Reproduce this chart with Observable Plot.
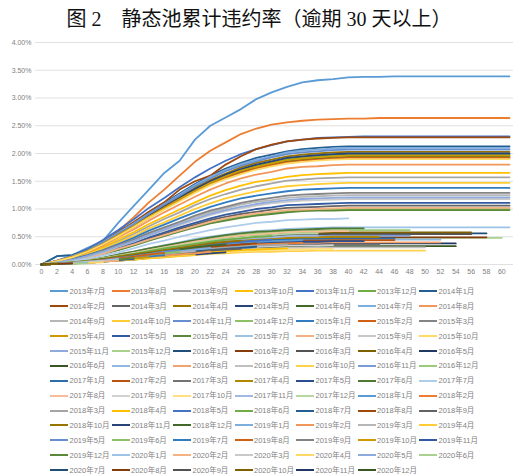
<!DOCTYPE html>
<html><head><meta charset="utf-8">
<script src="https://cdn.jsdelivr.net/npm/d3@7"></script>
<script src="https://cdn.jsdelivr.net/npm/@observablehq/plot@0.6"></script>
<style>
html,body{margin:0;padding:0;background:#fff}
body{width:518px;height:476px;overflow:hidden;position:relative;font-family:"Noto Sans CJK SC",sans-serif}
#title{position:absolute;left:0;top:0;width:518px;height:36px;line-height:38px;text-align:center;font-family:"Liberation Serif","Noto Sans CJK SC",serif;font-size:20px;color:#111;white-space:pre}
#chart{position:absolute;left:0;top:32px}
#legend{position:absolute;left:50px;top:284px;display:grid;grid-template-columns:repeat(7,61.5px);grid-auto-rows:14.9px}
.item{display:flex;align-items:center;white-space:nowrap;font-size:7.5px;line-height:9px;color:#7f7f7f;font-family:"Liberation Sans","Noto Sans CJK SC",sans-serif}
.sw{display:inline-block;width:18px;height:2px;margin-right:1.5px;flex:none}
</style>
</head><body>
<div id="title">图 2　静态池累计违约率（逾期 30 天以上）</div>
<div id="chart"></div>
<div id="legend"></div>
<script>
// Pool names (issuance month)
const poolNames = [
"2013年7月","2013年8月","2013年9月","2013年10月","2013年11月","2013年12月",
"2014年1月","2014年2月","2014年3月","2014年4月","2014年5月","2014年6月","2014年7月","2014年8月","2014年9月","2014年10月","2014年11月","2014年12月",
"2015年1月","2015年2月","2015年3月","2015年4月","2015年5月","2015年6月","2015年7月","2015年8月","2015年9月","2015年10月","2015年11月","2015年12月",
"2016年1月","2016年2月","2016年3月","2016年4月","2016年5月","2016年6月","2016年7月","2016年8月","2016年9月","2016年10月","2016年11月","2016年12月",
"2017年1月","2017年2月","2017年3月","2017年4月","2017年5月","2017年6月","2017年7月","2017年8月","2017年9月","2017年10月","2017年11月","2017年12月",
"2018年1月","2018年2月","2018年3月","2018年4月","2018年5月","2018年6月","2018年7月","2018年8月","2018年9月","2018年10月","2018年11月","2018年12月",
"2019年1月","2019年2月","2019年3月","2019年4月","2019年5月","2019年6月","2019年7月","2019年8月","2019年9月","2019年10月","2019年11月","2019年12月",
"2020年1月","2020年2月","2020年3月","2020年4月","2020年5月","2020年6月","2020年7月","2020年8月","2020年9月","2020年10月","2020年11月","2020年12月"
];
// months since issuance for each position in a rate array
const monthGrid = [0,2,4,6,8,10,12,14,16,18,20,22,24,26,28,30,32,34,36,38,40,42,44,46,48,50,52,54,56,58,60,61];
// cumulative default rate, in hundredths of a percent (1 = 0.01%)
const rates = [
[0,15,17,30,42,75,105,135,165,187,225,250,265,280,298,310,320,328,332,334,337,338,338,339,339,339,339,339,339,339,339,339],
[0,5,12,22,38,60,85,112,135,160,185,205,220,235,245,252,256,259,261,262,263,263,264,264,264,264,264,264,264,264,264,264],
[0,5,11,19,30,42,55,69,82,94,107,118,127,135,141,146,151,153,155,156,157,157,157,157,157,157,157,157,157,157,157,157],
[0,5,12,20,31,45,58,73,86,99,112,124,134,142,149,153,158,161,163,164,165,165,165,165,165,165,165,165,165,165,165,165],
[0,7,16,28,44,62,81,102,120,139,157,173,187,199,208,215,222,225,228,229,230,231,231,231,231,231,231,231,231,231,231,231],
[0,6,14,24,38,53,69,87,103,119,135,149,160,170,178,184,190,193,195,197,198,198,198,198,198,198,198,198,198,198,198,198],
[0,15,17,26,40,58,75,94,111,128,145,160,173,183,192,198,204,208,210,212,213,213,213,213,213,213,213,213,213,213,213,213],
[0,6,14,25,40,58,76,95,112,135,150,160,180,195,208,216,222,225,227,228,229,229,229,229,229,229,229,229,229,229,229,229],
[0,3,7,13,20,29,37,47,55,64,72,80,86,91,95,99,102,103,104,105,106,106,106,106,106,106,106,106,106,106,106,106],
[0,6,14,24,39,55,71,89,106,122,138,152,164,175,183,189,195,198,200,202,203,203,203,203,203,203,203,203,203,203,203,203],
[0,6,14,24,38,54,70,88,104,120,136,150,162,172,180,186,192,195,197,199,200,200,200,200,200,200,200,200,200,200,200,200],
[0,6,14,23,37,52,68,85,101,116,132,146,157,167,175,180,186,189,191,193,194,194,194,194,194,194,194,194,194,194,194,194],
[0,6,15,25,40,57,74,92,109,126,143,158,170,181,189,195,202,205,207,209,210,210,210,210,210,210,210,210,210,210,210,210],
[0,5,13,22,34,49,63,79,94,108,122,135,146,155,162,167,173,176,177,179,180,180,180,180,180,180,180,180,180,180,180,180],
[0,4,9,15,24,34,44,55,65,75,85,94,101,108,113,116,120,122,123,124,125,125,125,125,125,125,125,125,125,125,125,125],
[0,4,10,18,28,40,51,65,76,88,100,110,119,126,132,137,141,143,145,146,147,147,147,147,147,147,147,147,147,147,147,147],
[0,6,14,25,39,56,72,91,108,124,141,155,168,178,186,193,199,202,204,206,207,207,207,207,207,207,207,207,207,207,207,207],
[0,3,7,12,19,27,35,44,52,60,68,75,81,86,90,93,96,98,99,99,100,100,100,100,100,100,100,100,100,100,100,100],
[0,4,10,17,26,37,48,61,72,83,94,104,112,119,124,128,132,135,136,137,138,138,138,138,138,138,138,138,138,138,138,138],
[0,6,13,23,36,52,67,84,100,115,131,144,156,165,173,179,184,187,189,191,192,192,192,192,192,192,192,192,192,192,192,192],
[0,4,9,15,25,35,45,57,67,77,88,97,104,111,116,120,124,126,127,128,129,129,129,129,129,129,129,129,129,129,129,129],
[0,6,14,24,37,53,69,86,102,118,133,147,159,169,176,182,188,191,193,195,196,196,196,196,196,196,196,196,196,196,196,196],
[0,3,8,13,21,30,39,49,58,67,75,83,90,95,100,103,107,108,109,110,111,111,111,111,111,111,111,111,111,111,111,111],
[0,3,7,12,19,26,34,43,51,59,67,74,79,84,88,91,94,96,97,97,98,98,98,98,98,98,98,98,98,98,98,98],
[0,2,5,8,13,18,23,29,35,40,46,50,54,58,60,62,64,65,66,67,67,67,67,67,67,67,67,67,67,67,67,67],
[0,3,7,12,19,28,36,45,53,61,69,77,83,88,92,95,98,99,100,101,102,102,102,102,102,102,102,102,102,102,102,102],
[0,4,8,14,22,32,41,52,61,71,80,89,96,101,106,110,113,115,116,117,118,118,118,118,118,118,118,118,118,118,118,118],
[0,6,13,23,36,51,67,84,99,114,129,143,154,163,171,177,182,185,187,189,190,190,190,190,190,190,190,190,190,190,190,190],
[0,4,8,15,23,33,42,53,63,73,82,91,98,104,109,113,116,118,119,120,121,121,121,121,121,121,121,121,121,121,121,121],
[0,1,3,6,9,13,17,21,25,29,33,36,39,41,43,45,46,47,47,48,48,48,48,48,48,48,48,48,48,48,48],
[0,2,4,7,11,15,20,25,29,34,38,42,45,48,50,52,54,55,55,56,56,56,56,56,56,56,56,56,56,56],
[0,1,3,6,9,13,17,22,25,29,33,37,40,42,44,46,47,48,48,49,49,49,49,49,49,49,49,49,49,49],
[0,2,4,7,10,15,19,24,29,33,37,41,45,47,50,51,53,54,54,55,55,55,55,55,55,55,55,55,55],
[0,2,4,7,11,16,20,26,30,35,39,44,47,50,52,54,56,57,57,58,58,58,58,58,58,58,58,58,58],
[0,1,3,5,7,10,13,17,20,23,26,29,31,33,34,35,36,37,37,38,38,38,38,38,38,38,38,38],
[0,1,2,4,6,9,12,15,17,20,22,25,27,28,30,31,32,32,33,33,33,33,33,33,33,33,33,33],
[0,1,3,5,9,12,16,20,23,27,31,34,36,39,41,42,43,44,44,45,45,45,45,45,45,45,45],
[0,1,3,5,8,11,14,18,21,24,27,30,32,34,36,37,38,39,39,40,40,40,40,40,40,40,40],
[0,1,2,4,6,8,11,14,16,19,21,23,25,27,28,29,30,30,31,31,31,31,31,31,31,31],
[0,1,2,3,5,7,9,11,13,15,17,19,20,22,23,23,24,24,25,25,25,25,25,25,25,25],
[0,2,4,6,10,14,18,23,27,31,35,39,42,45,47,48,50,51,51,52,52,52,52,52,52],
[0,2,4,7,12,17,22,27,32,37,42,47,50,53,56,58,60,60,61,62,62,62,62,62,62],
[0,1,3,6,9,13,16,21,24,28,32,35,38,40,42,44,45,46,46,47,47,47,47,47],
[0,1,3,5,8,12,15,19,23,26,30,33,36,38,40,41,42,43,43,44,44,44,44,44],
[0,1,3,4,7,10,13,16,19,22,24,27,29,31,32,33,35,35,35,36,36,36,36],
[0,2,4,6,10,14,18,22,26,30,34,38,41,43,45,47,48,49,49,50,50,50,50],
[0,1,3,5,8,11,15,18,22,25,29,32,34,36,38,39,40,41,41,42,42,42],
[0,2,5,8,12,18,23,29,34,39,44,49,53,56,59,60,62,63,64,65,65,65],
[0,2,6,10,16,22,29,37,43,50,56,62,67,71,75,77,80,81,82,82,83],
[0,2,4,7,11,16,21,26,31,36,41,45,49,52,54,56,58,59,59,60,60],
[0,1,2,4,7,9,12,15,18,21,24,26,28,30,32,33,34,34,34,35],
[0,1,2,3,5,8,10,12,15,17,19,21,23,24,25,26,27,27,28,28],
[0,2,4,6,10,14,19,23,28,32,36,40,43,46,48,49,51,52,52],
[0,2,4,7,11,15,20,25,30,34,39,43,46,49,51,53,55,56,56],
[0,1,3,5,9,12,16,20,23,27,31,34,36,39,41,42,43,44],
[0,1,3,5,8,11,14,18,21,24,27,30,32,34,36,37,38,39],
[0,1,3,5,7,10,13,17,20,23,26,29,31,33,34,35,36],
[0,1,2,4,6,8,11,13,16,18,20,23,24,26,27,28,29],
[0,1,3,6,9,13,17,21,25,29,33,36,39,41,43,45],
[0,2,4,7,10,15,19,24,29,33,37,41,45,47,50,51],
[0,1,2,4,7,9,12,15,18,21,24,26,28,30,32],
[0,1,3,5,8,11,15,18,22,25,29,32,34,36,38],
[0,1,2,4,6,9,12,15,17,20,22,25,27,28],
[0,2,4,6,10,14,18,22,26,30,34,38,41,43],
[0,1,2,3,5,7,9,12,14,16,18,20,22],
[0,1,3,5,9,12,16,20,23,27,31,34,36],
[0,1,3,5,8,11,14,18,21,24,27,30],
[0,1,2,4,6,8,11,13,16,18,20,23],
[0,1,3,4,7,10,13,16,19,22,24],
[0,1,2,3,5,7,9,11,13,15,17],
[0,1,3,5,8,12,15,19,23,26],
[0,1,3,5,7,10,13,17,20,23],
[0,1,2,4,6,9,11,14,17],
[0,1,3,5,8,11,14,18,21],
[0,1,2,4,7,9,12,15],
[0,1,2,4,6,8,11,13],
[0,1,2,3,5,8,10],
[0,1,2,4,6,9,12],
[0,1,3,5,7,10],
[0,1,2,3,5,7],
[0,1,2,4,6],
[0,1,2,3,4],
[0,1,2,3],
[0,1,1,2],
[0,1,2],
[0,1,2],
[0,1],
[0,1],
[0],
[0]
];
const xTicks = [0,2,4,6,8,10,12,14,16,18,20,22,24,26,28,30,32,34,36,38,40,42,44,46,48,50,52,54,56,58,60];
const yTicks = [0,0.5,1,1.5,2,2.5,3,3.5,4];

// Excel-style 54-colour series palette
const palette = [
"#5B9BD5","#ED7D31","#A5A5A5","#FFC000","#4472C4","#70AD47",
"#255E91","#9E480E","#636363","#997300","#264478","#43682B",
"#7CAFDD","#F1975A","#B7B7B7","#FFCD33","#698ED0","#8CC168",
"#327DC2","#D26012","#848484","#CC9A00","#335AA1","#5A8A39",
"#9DC3E6","#F4B183","#C9C9C9","#FFD966","#8FAADC","#A9D18E",
"#1F4E79","#843C0C","#525252","#7F6000","#203864","#385723",
"#8DB9E2","#F2A36F","#C0C0C0","#FFD24D","#7B9DD6","#9ACA7A",
"#2C6DAA","#B85310","#737373","#B38600","#2B4F8E","#4E7A31",
"#AECDEA","#F6BD98","#D2D2D2","#FFDF80","#A1B9E2","#B7D9A0"
];
const seriesColors = poolNames.map((_, i) => palette[i % palette.length]);

const rows = [];
poolNames.forEach((name, i) => {
  rates[i].forEach((v, j) => rows.push({pool: name, month: monthGrid[j], rate: v / 100}));
});

const chart = Plot.plot({
  width: 518, height: 250,
  marginLeft: 41, marginRight: 9, marginTop: 10, marginBottom: 18,
  x: {domain: [0, 61], ticks: xTicks, tickSize: 0, tickPadding: 5, label: null},
  y: {domain: [0, 4], ticks: yTicks, tickSize: 0, tickPadding: 10, label: null, tickFormat: d => d.toFixed(2) + "%"},
  color: {domain: poolNames, range: seriesColors},
  style: {fontFamily: "Liberation Sans, sans-serif", fontSize: "7px", color: "#808080", background: "white", overflow: "visible"},
  marks: [
    Plot.ruleY(yTicks, {stroke: "#d9d9d9", strokeWidth: 0.8, insetLeft: -6, insetRight: -4}),
    Plot.line(rows, {x: "month", y: "rate", z: "pool", stroke: "pool", strokeWidth: 1.8, strokeLinejoin: "round"})
  ]
});
document.getElementById("chart").appendChild(chart);

const legend = document.getElementById("legend");
poolNames.forEach((name, i) => {
  const it = document.createElement("div");
  it.className = "item";
  const sw = document.createElement("span");
  sw.className = "sw";
  sw.style.background = seriesColors[i];
  const tx = document.createElement("span");
  tx.textContent = name;
  it.appendChild(sw); it.appendChild(tx);
  legend.appendChild(it);
});
</script>
</body></html>
